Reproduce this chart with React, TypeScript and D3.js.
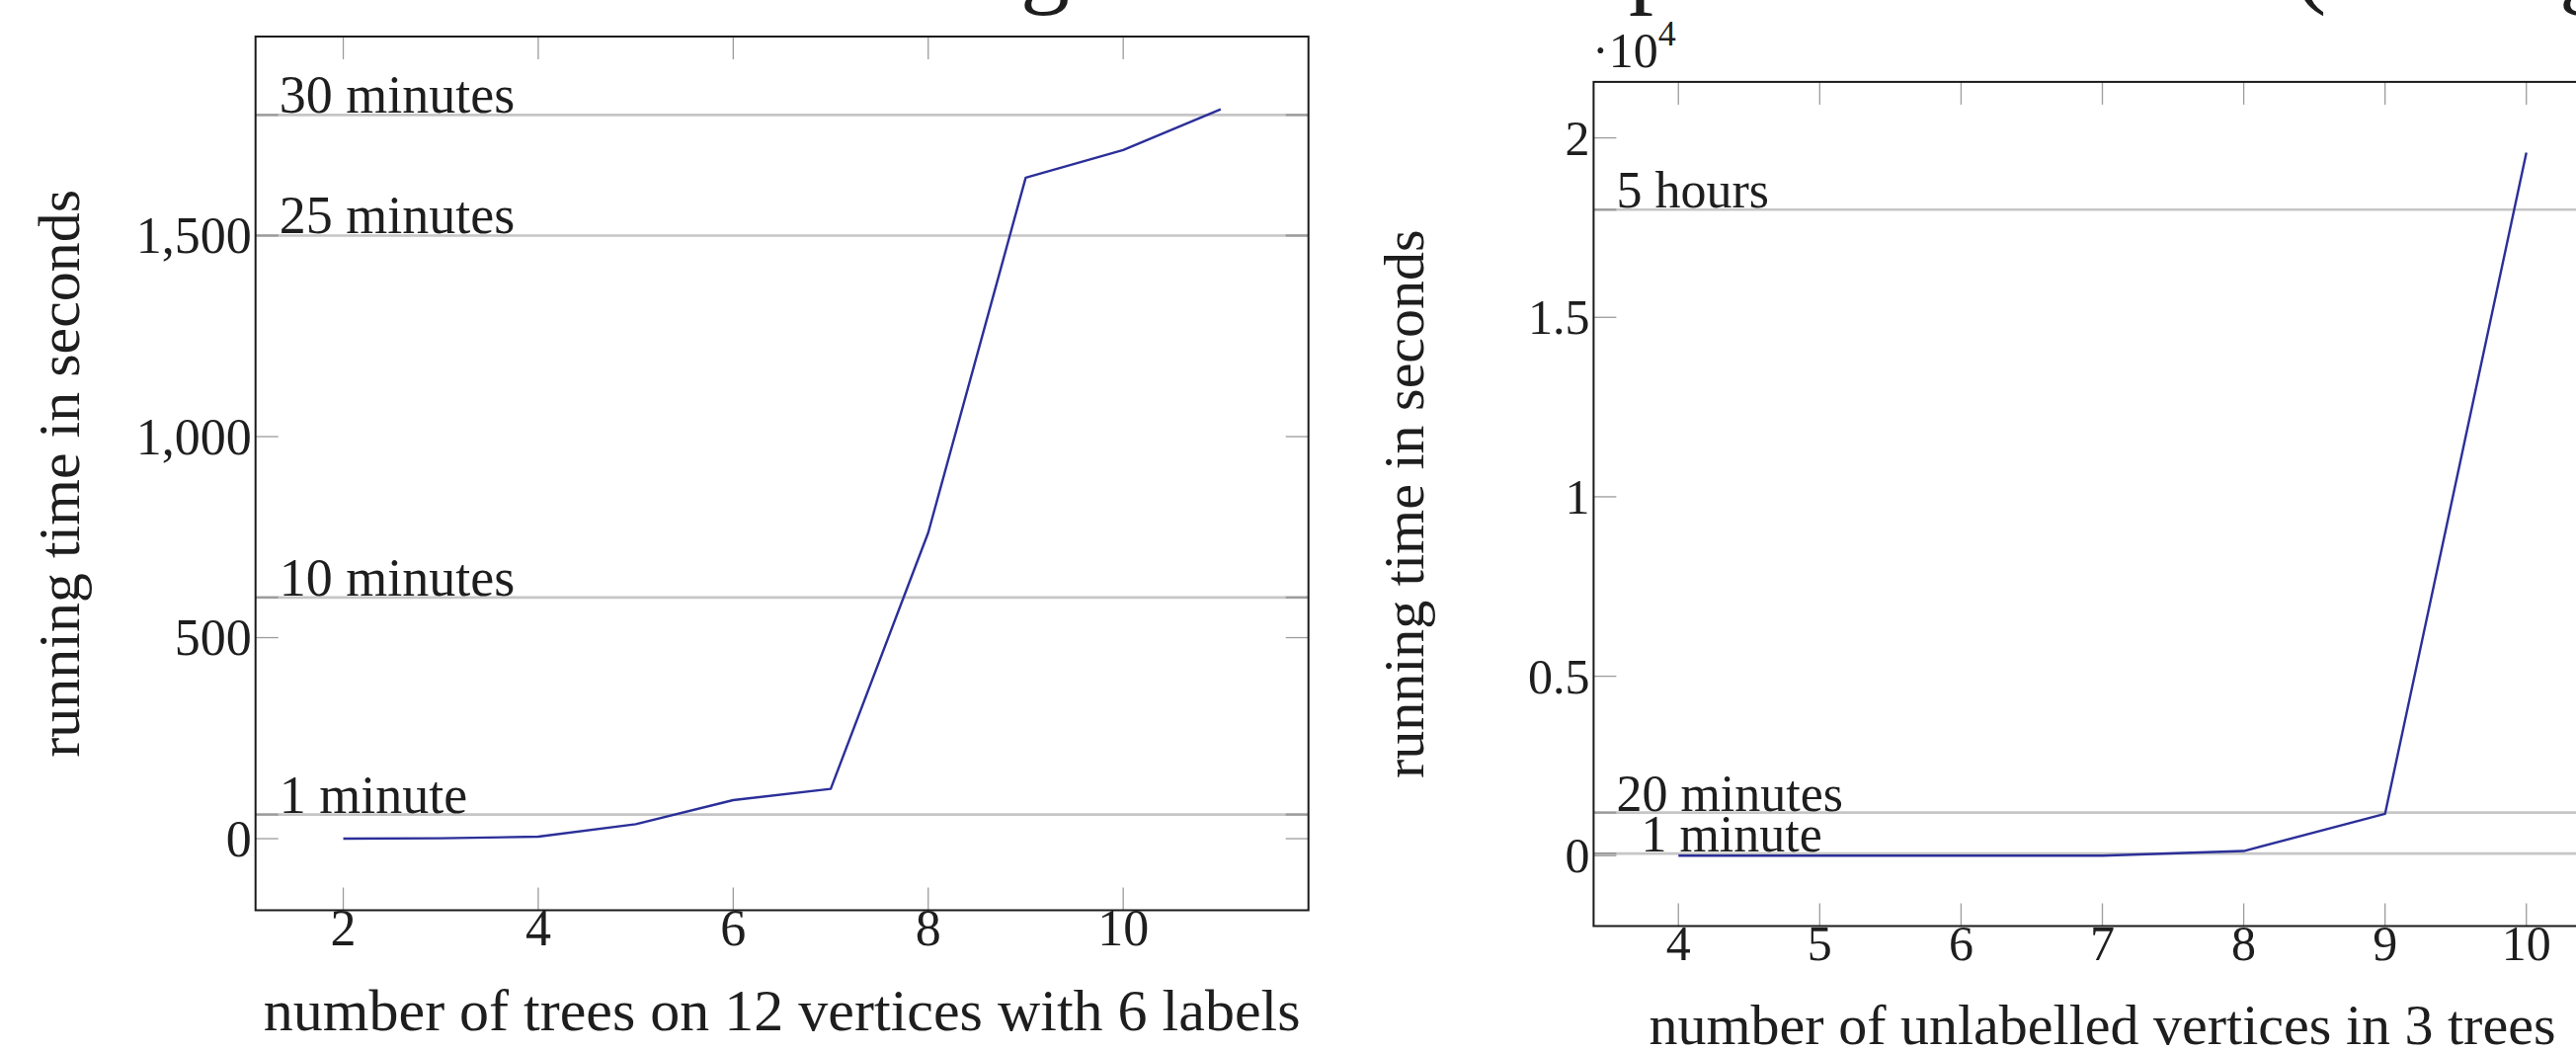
import React from "react";
import * as d3 from "d3";

// ---------- data ----------
const leftX = [2, 3, 4, 5, 6, 7, 8, 9, 10, 11];
const leftY = [0, 1, 5, 36, 96, 124, 761, 1644, 1713, 1814];
const leftXTicks = [2, 4, 6, 8, 10];
const leftYTicks = [0, 500, 1000, 1500];
const leftRefValues = [1800, 1500, 600, 60];
const leftRefLabels = ["30 minutes", "25 minutes", "10 minutes", "1 minute"];
const leftXDomain = [1.1, 11.9];
const leftYDomain = [-178, 1995];
const leftXLabel = "number of trees on 12 vertices with 6 labels";

const rightX = [4, 5, 6, 7, 8, 9, 10];
const rightY = [0, 0, 0, 2, 130, 1165, 19590];
const rightXTicks = [4, 5, 6, 7, 8, 9, 10];
const rightYTicks = [0, 5000, 10000, 15000, 20000];
const rightRefValues = [18000, 1200, 60];
const rightRefLabels = ["5 hours", "20 minutes", "1 minute"];
const rightXDomain = [3.4, 10.6];
const rightYDomain = [-1960, 21560];
const rightXLabel = "number of unlabelled vertices in 3 trees";

const yLabel = "running time in seconds";
const titleFragments = ["g", "p", "(", "g"];

// ---------- styles ----------
const FONT = "'Liberation Serif', 'Times New Roman', serif";
const TEXT = "#1e1e1e";
const FRAME = "#1a1a1a";
const TICK = "#9c9c9c";
const GRID = "#c6c6c6";
const LINE = "#2b2f98";

type PanelProps = {
  xs: number[];
  ys: number[];
  xTicks: number[];
  yTicks: number[];
  refValues: number[];
  refLabels: string[];
  refLabelDx: number[];
  xDomain: number[];
  yDomain: number[];
  left: number;
  right: number;
  top: number;
  bottom: number;
  tickFont: number;
  refFont: number;
  labelFont: number;
  xTickBaseline: number;
  xLabel: string;
  xLabelBaseline: number;
  yLabelX: number;
  yFmt: (v: number) => string;
  tickLen: number;
};

function Panel(p: PanelProps) {
  const x = d3.scaleLinear().domain(p.xDomain).range([p.left, p.right]);
  const y = d3.scaleLinear().domain(p.yDomain).range([p.bottom, p.top]);
  const pts = p.xs.map((v, i) => [v, p.ys[i]] as [number, number]);
  const line = d3
    .line<[number, number]>()
    .x((d) => x(d[0]))
    .y((d) => y(d[1]));
  const tl = p.tickLen;
  const cx = (p.left + p.right) / 2;
  const cy = (p.top + p.bottom) / 2;
  return (
    <g>
      {p.refValues.map((v, i) => (
        <line
          key={"g" + i}
          x1={p.left}
          x2={p.right}
          y1={y(v)}
          y2={y(v)}
          stroke={GRID}
          strokeWidth={2.7}
        />
      ))}
      {p.refValues.map((v, i) => (
        <g key={"rt" + i}>
          <line x1={p.left} x2={p.left + tl} y1={y(v)} y2={y(v)} stroke={TICK} strokeWidth={2.2} />
          <line x1={p.right - tl} x2={p.right} y1={y(v)} y2={y(v)} stroke={TICK} strokeWidth={2.2} />
        </g>
      ))}
      {p.xTicks.map((t) => (
        <g key={"xt" + t}>
          <line x1={x(t)} x2={x(t)} y1={p.bottom} y2={p.bottom - tl} stroke={TICK} strokeWidth={1.3} />
          <line x1={x(t)} x2={x(t)} y1={p.top} y2={p.top + tl} stroke={TICK} strokeWidth={1.3} />
        </g>
      ))}
      {p.yTicks.map((t) => (
        <g key={"yt" + t}>
          <line x1={p.left} x2={p.left + tl} y1={y(t)} y2={y(t)} stroke={TICK} strokeWidth={1.3} />
          <line x1={p.right - tl} x2={p.right} y1={y(t)} y2={y(t)} stroke={TICK} strokeWidth={1.3} />
        </g>
      ))}
      <path d={line(pts) || ""} fill="none" stroke={LINE} strokeWidth={2.4} strokeLinejoin="round" />
      <rect
        x={p.left}
        y={p.top}
        width={p.right - p.left}
        height={p.bottom - p.top}
        fill="none"
        stroke={FRAME}
        strokeWidth={2}
      />
      {p.refValues.map((v, i) => (
        <text
          key={"rl" + i}
          x={p.left + p.refLabelDx[i]}
          y={y(v) - 2}
          fontSize={p.refFont}
          fontFamily={FONT}
          fill={TEXT}
        >
          {p.refLabels[i]}
        </text>
      ))}
      {p.xTicks.map((t) => (
        <text
          key={"xl" + t}
          x={x(t)}
          y={p.xTickBaseline}
          textAnchor="middle"
          fontSize={p.tickFont}
          fontFamily={FONT}
          fill={TEXT}
        >
          {t}
        </text>
      ))}
      {p.yTicks.map((t) => (
        <text
          key={"yl" + t}
          x={p.left - 4}
          y={y(t) + p.tickFont * 0.34}
          textAnchor="end"
          fontSize={p.tickFont}
          fontFamily={FONT}
          fill={TEXT}
        >
          {p.yFmt(t)}
        </text>
      ))}
      <text
        x={cx}
        y={p.xLabelBaseline}
        textAnchor="middle"
        fontSize={p.labelFont}
        fontFamily={FONT}
        fill={TEXT}
      >
        {p.xLabel}
      </text>
      <text
        transform={`translate(${p.yLabelX},${cy}) rotate(-90)`}
        textAnchor="middle"
        fontSize={p.labelFont}
        fontFamily={FONT}
        fill={TEXT}
      >
        {yLabel}
      </text>
    </g>
  );
}

export default function App() {
  const comma = d3.format(",");
  const sci = (v: number) => String(v / 1e4);
  const fragX = [1033, 1649, 2322, 2591];
  return (
    <div>
      <style>{`html,body{margin:0;padding:0;overflow:hidden;background:#fff}`}</style>
      <svg width={2608} height={1064} style={{ display: "block" }}>
        <rect x={0} y={0} width={2608} height={1064} fill="#fff" />
        {titleFragments.map((c, i) => (
          <text key={"tf" + i} x={fragX[i]} y={-5} fontSize={100} fontFamily={FONT} fill={TEXT}>
            {c}
          </text>
        ))}
        <Panel
          xs={leftX}
          ys={leftY}
          xTicks={leftXTicks}
          yTicks={leftYTicks}
          refValues={leftRefValues}
          refLabels={leftRefLabels}
          refLabelDx={[24, 24, 24, 24]}
          xDomain={leftXDomain}
          yDomain={leftYDomain}
          left={258.7}
          right={1324.7}
          top={37}
          bottom={921.5}
          tickFont={52}
          refFont={54}
          labelFont={60}
          xTickBaseline={957}
          xLabel={leftXLabel}
          xLabelBaseline={1043}
          yLabelX={80}
          yFmt={comma}
          tickLen={23}
        />
        <Panel
          xs={rightX}
          ys={rightY}
          xTicks={rightXTicks}
          yTicks={rightYTicks}
          refValues={rightRefValues}
          refLabels={rightRefLabels}
          refLabelDx={[23, 23, 48]}
          xDomain={rightXDomain}
          yDomain={rightYDomain}
          left={1613.4}
          right={2643.6}
          top={82.9}
          bottom={937.5}
          tickFont={50}
          refFont={52}
          labelFont={58}
          xTickBaseline={971.5}
          xLabel={rightXLabel}
          xLabelBaseline={1057}
          yLabelX={1441}
          yFmt={sci}
          tickLen={23}
        />
        <text x={1612} y={68} fontSize={50} fontFamily={FONT} fill={TEXT}>
          ·10
          <tspan dy={-22} fontSize={36}>
            4
          </tspan>
        </text>
      </svg>
    </div>
  );
}
